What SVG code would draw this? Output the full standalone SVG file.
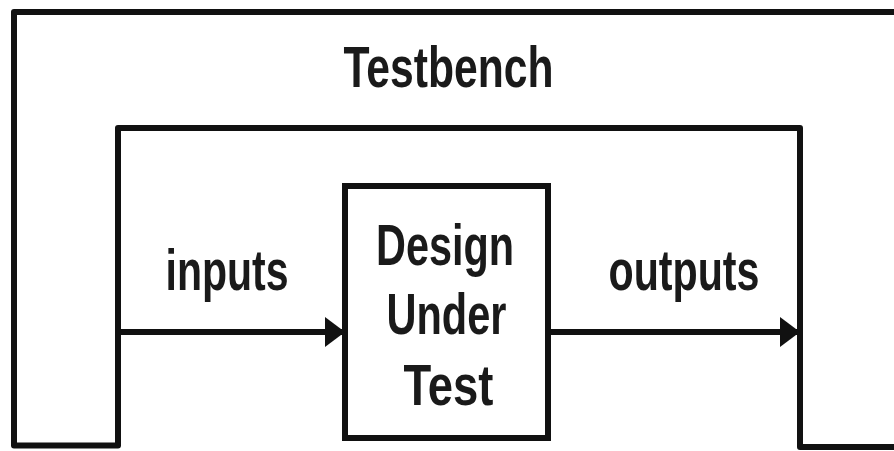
<svg xmlns="http://www.w3.org/2000/svg" width="894" height="451" viewBox="0 0 894 451">
  <style>
    .wire { fill: none; stroke: #111; stroke-width: 6; stroke-linejoin: round; }
    .box { fill: #fff; stroke: #111; stroke-width: 6; }
    .lbl { font-family: "Liberation Sans", Arial, sans-serif; font-weight: bold; font-size: 57px; fill: #1a1a1a; text-anchor: middle; }
  </style>
  <defs>
    <marker id="arrow" viewBox="0 0 20 30" refX="20" refY="15" markerWidth="20" markerHeight="30" markerUnits="userSpaceOnUse" orient="auto">
      <polygon points="0,0 20,15 0,30" fill="#111"/>
    </marker>
  </defs>
  <rect width="894" height="451" fill="#fff"/>

  <!-- Testbench frame wrapping the design -->
  <g id="testbench">
    <path class="wire" d="M 900 12 L 14 12 L 14 445.5 L 118 445.5 L 118 128 L 800 128 L 800 447 L 900 447"/>
    <text class="lbl" x="448.5" y="87" textLength="210" lengthAdjust="spacingAndGlyphs">Testbench</text>
  </g>

  <!-- Design under test -->
  <g id="dut">
    <rect class="box" x="345" y="186" width="203" height="252"/>
    <text class="lbl" x="445" y="265" textLength="138" lengthAdjust="spacingAndGlyphs">Design</text>
    <text class="lbl" x="446.5" y="334" textLength="120" lengthAdjust="spacingAndGlyphs">Under</text>
    <text class="lbl" x="448.5" y="405" textLength="90" lengthAdjust="spacingAndGlyphs">Test</text>
  </g>

  <!-- Signal connectors -->
  <g id="connectors">
    <g id="inputs">
      <line class="wire" x1="118" y1="332" x2="345" y2="332" marker-end="url(#arrow)"/>
      <text class="lbl" x="227" y="290" textLength="123" lengthAdjust="spacingAndGlyphs">inputs</text>
    </g>
    <g id="outputs">
      <line class="wire" x1="548" y1="332" x2="800" y2="332" marker-end="url(#arrow)"/>
      <text class="lbl" x="684" y="290" textLength="151" lengthAdjust="spacingAndGlyphs">outputs</text>
    </g>
  </g>
</svg>
